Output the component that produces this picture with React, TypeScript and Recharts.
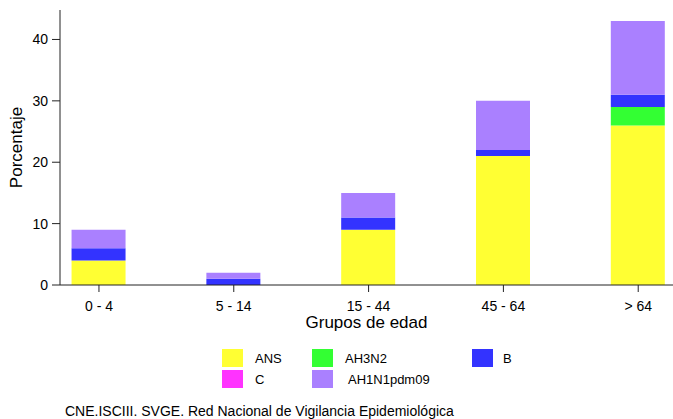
import React from 'react';
import { BarChart, Bar, XAxis, YAxis, Legend } from 'recharts';

// grupos de edad y porcentaje por tipo/subtipo de virus
const grupos = ['0 - 4', '5 - 14', '15 - 44', '45 - 64', '> 64'];
const ans = [4, 0, 9, 21, 26];
const ah3n2 = [0, 0, 0, 0, 3];
const virusB = [2, 1, 2, 1, 2];
const virusC = [0, 0, 0, 0, 0];
const ah1n1 = [3, 1, 4, 8, 12];
const yTicks = [0, 10, 20, 30, 40];

const series = [
  { key: 'ANS', name: 'ANS', color: '#FFFF33', values: ans },
  { key: 'AH3N2', name: 'AH3N2', color: '#33FF33', values: ah3n2 },
  { key: 'B', name: 'B', color: '#3333FF', values: virusB },
  { key: 'C', name: 'C', color: '#FF33FF', values: virusC },
  { key: 'AH1N1pdm09', name: 'AH1N1pdm09', color: '#AA80FF', values: ah1n1 },
];

const chartData = grupos.map((g, i) => {
  const row: Record<string, number | string> = { idx: i, grupo: g };
  series.forEach((s) => {
    row[s.key] = s.values[i];
  });
  return row;
});

const font = '"Liberation Sans", Arial, sans-serif';

// posiciones de la leyenda (dos filas, tres columnas)
const legendSlots: Record<string, { box: number; text: number; row: number }> = {
  ANS: { box: 222, text: 255, row: 0 },
  AH3N2: { box: 312, text: 345, row: 0 },
  B: { box: 472, text: 503, row: 0 },
  C: { box: 222, text: 255, row: 1 },
  AH1N1pdm09: { box: 312, text: 348, row: 1 },
};

const renderLegend = () => (
  <div style={{ position: 'relative', width: 673, height: 55, fontFamily: font, fontSize: 13 }}>
    {series.map((s) => {
      const slot = legendSlots[s.key];
      const top = 9 + slot.row * 21;
      return (
        <React.Fragment key={s.key}>
          <div
            style={{
              position: 'absolute',
              left: slot.box,
              top,
              width: 21,
              height: 18,
              background: s.color,
            }}
          />
          <div style={{ position: 'absolute', left: slot.text, top: top + 1, lineHeight: '18px', color: '#000' }}>
            {s.name}
          </div>
        </React.Fragment>
      );
    })}
  </div>
);

export default function App() {
  return (
    <div style={{ position: 'absolute', left: 0, top: 0, width: 673, height: 419, background: '#fff' }}>
      <BarChart
        width={673}
        height={419}
        data={chartData}
        margin={{ top: 10, right: 0, bottom: 84, left: 0 }}
        style={{ fontFamily: font }}
      >
        <XAxis
          dataKey="idx"
          type="number"
          domain={[-0.289, 4.258]}
          allowDataOverflow
          ticks={[0, 1, 2, 3, 4]}
          tickFormatter={(v: number) => grupos[v]}
          height={50}
          tickSize={7}
          tickMargin={9}
          stroke="#222"
          tick={{ fill: '#000', fontSize: 14 }}
          label={{ value: 'Grupos de edad', position: 'center', dy: 12, fill: '#000', fontSize: 17 }}
        />
        <YAxis
          width={60}
          domain={[0, 44.8]}
          allowDataOverflow
          ticks={yTicks}
          tickSize={8}
          tickMargin={4}
          stroke="#222"
          tick={{ fill: '#000', fontSize: 14 }}
          label={{ value: 'Porcentaje', angle: -90, position: 'center', dx: -14, fill: '#000', fontSize: 17 }}
        />
        <Legend
          layout="horizontal"
          verticalAlign="middle"
          align="center"
          content={renderLegend}
          wrapperStyle={{ left: 0, top: 340, width: 673, height: 55 }}
        />
        {series.map((s) => (
          <Bar
            key={s.key}
            dataKey={s.key}
            name={s.name}
            stackId="virus"
            fill={s.color}
            barSize={54}
            isAnimationActive={false}
          />
        ))}
      </BarChart>
      <div
        style={{
          position: 'absolute',
          left: 65,
          top: 402,
          fontFamily: font,
          fontSize: 14,
          lineHeight: '18px',
          color: '#000',
        }}
      >
        CNE.ISCIII. SVGE. Red Nacional de Vigilancia Epidemiológica
      </div>
    </div>
  );
}
